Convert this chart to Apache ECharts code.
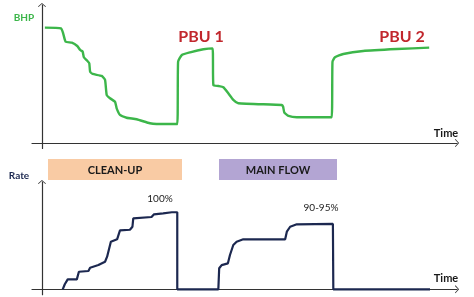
<!DOCTYPE html>
<html>
<head>
<meta charset="utf-8">
<script src="https://cdn.jsdelivr.net/npm/echarts@6/dist/echarts.min.js"></script>
<style>
  html, body { margin: 0; padding: 0; background: #fff; }
  #chart { width: 474px; height: 297px; }
</style>
</head>
<body>
<div id="chart"></div>
<script>
// bottom hole pressure (time 0-100, pressure 0-100)
var bhpTime = [0.7, 4.6, 5.1, 5.7, 7.2, 8.5, 9.2, 9.8, 10.1, 10.9, 11.4, 11.6, 12.2, 14.4, 15.2, 15.6, 16.4, 17.6, 18.0, 18.8, 20.4, 22.8, 26.0, 27.6, 32.6,
  32.8, 33.7, 35.7, 38.9, 41.1, 41.3, 42.5, 43.7, 44.9, 46.1, 47.3, 57.8, 58.1, 58.4, 59.4, 61.4, 69.8,
  70.0, 70.6, 72.6, 77.4, 85.5, 93.3];
var bhpValue = [83.6, 83.1, 79.5, 73.4, 72.7, 70.3, 67.4, 66.2, 62.1, 59.6, 57.8, 51.7, 50.0, 48.6, 45.7, 34.8, 32.4, 29.9, 25.1, 20.3, 18.3, 17.2, 14.3, 13.8, 13.8,
  58.9, 63.8, 65.7, 67.9, 68.6, 42.0, 41.3, 40.4, 36.0, 31.2, 28.8, 27.5, 26.3, 22.0, 19.6, 18.6, 18.6,
  58.9, 62.1, 64.5, 66.7, 68.1, 69.1];

// flow rate, lower panel
var rateTime = [5.0, 5.5, 6.2, 8.4, 8.9, 11.2, 11.6, 13.6, 15.2, 15.7, 16.6, 17.0, 18.1, 18.8, 21.2, 21.8, 22.0, 22.4, 26.4, 27.0, 29.2, 31.3, 32.6,
  32.6, 42.5, 42.7, 43.3, 44.8, 45.3, 46.1, 46.9, 48.5, 58.6, 59.0, 59.8, 61.4, 70.1, 70.2, 93.5];
var rateValue = [0, 4.7, 9.3, 9.3, 16.4, 17.1, 20.1, 22.6, 25.7, 30.4, 44.4, 45.9, 46.6, 55.0, 55.5, 58.3, 66.2, 67.4, 67.4, 69.9, 70.8, 71.8, 71.8,
  0, 0, 19.6, 22.6, 24.2, 32.0, 41.3, 44.4, 46.6, 46.6, 53.7, 58.3, 60.6, 60.9, 0, 0];

var pbuLabels = ['PBU 1', 'PBU 2'];
var phaseLabels = ['CLEAN-UP', 'MAIN FLOW'];
var rateLabels = ['100%', '90-95%'];

function zip(a, b) {
  return a.map(function (v, i) { return [v, b[i]]; });
}

var chevron = 'path://M0,0 L10,9 L8.6,10.4 L0,2.6 L-8.6,10.4 L-10,9 Z';
var font = 'Lato, "Open Sans", sans-serif';

function axisX(gridIndex) {
  return {
    type: 'value', gridIndex: gridIndex, min: -2.4, max: 100,
    axisLine: { onZero: true, lineStyle: { color: '#333', width: 1.2 }, symbol: ['none', chevron], symbolSize: [8, 6] },
    axisTick: { show: false }, axisLabel: { show: false }, splitLine: { show: false }
  };
}
function axisY(gridIndex, min) {
  return {
    type: 'value', gridIndex: gridIndex, min: min, max: 100,
    axisLine: { onZero: true, lineStyle: { color: '#333', width: 1.2 }, symbol: ['none', chevron], symbolSize: [8, 6] },
    axisTick: { show: false }, axisLabel: { show: false }, splitLine: { show: false }
  };
}

var chart = echarts.init(document.getElementById('chart'));
chart.setOption({
  animation: false,
  grid: [
    { left: 32, right: 17, top: 5, bottom: 148.5 },
    { left: 32, right: 17, top: 182, bottom: 2.3 }
  ],
  xAxis: [axisX(0), axisX(1)],
  yAxis: [axisY(0, -4), axisY(1, -5)],
  series: [
    {
      type: 'line', xAxisIndex: 0, yAxisIndex: 0, data: zip(bhpTime, bhpValue),
      showSymbol: false, smooth: 0.15, lineStyle: { color: '#3cb64a', width: 2.4 }
    },
    {
      type: 'line', xAxisIndex: 1, yAxisIndex: 1, data: zip(rateTime, rateValue),
      showSymbol: false, lineStyle: { color: '#1c2850', width: 2.2 }
    }
  ],
  graphic: [
    { type: 'rect', shape: { x: 48, y: 159, width: 134, height: 21 }, style: { fill: '#f9cba4' } },
    { type: 'rect', shape: { x: 219, y: 159, width: 118, height: 21 }, style: { fill: '#b3a5d3' } },
    { type: 'text', x: 115, y: 170, style: { text: phaseLabels[0], fill: '#1a1a1a', font: 'bold 11px ' + font, align: 'center', verticalAlign: 'middle' } },
    { type: 'text', x: 278, y: 170, style: { text: phaseLabels[1], fill: '#1a1a1a', font: 'bold 11px ' + font, align: 'center', verticalAlign: 'middle' } },
    { type: 'text', x: 24, y: 18, style: { text: 'BHP', fill: '#3cb64a', font: 'bold 10px ' + font, align: 'center', verticalAlign: 'middle' } },
    { type: 'text', x: 19, y: 176, style: { text: 'Rate', fill: '#1c2850', font: 'bold 10px ' + font, align: 'center', verticalAlign: 'middle' } },
    { type: 'text', x: 446, y: 133, style: { text: 'Time', fill: '#1a1a1a', font: 'bold 11px ' + font, align: 'center', verticalAlign: 'middle' } },
    { type: 'text', x: 446, y: 278, style: { text: 'Time', fill: '#1a1a1a', font: 'bold 11px ' + font, align: 'center', verticalAlign: 'middle' } },
    { type: 'text', x: 201, y: 37, style: { text: pbuLabels[0], fill: '#c1272d', font: 'bold 16px ' + font, align: 'center', verticalAlign: 'middle' } },
    { type: 'text', x: 402, y: 37, style: { text: pbuLabels[1], fill: '#c1272d', font: 'bold 16px ' + font, align: 'center', verticalAlign: 'middle' } },
    { type: 'text', x: 160, y: 199, style: { text: rateLabels[0], fill: '#222', font: '10px ' + font, align: 'center', verticalAlign: 'middle' } },
    { type: 'text', x: 321, y: 208, style: { text: rateLabels[1], fill: '#222', font: '10px ' + font, align: 'center', verticalAlign: 'middle' } }
  ]
});
</script>
</body>
</html>
